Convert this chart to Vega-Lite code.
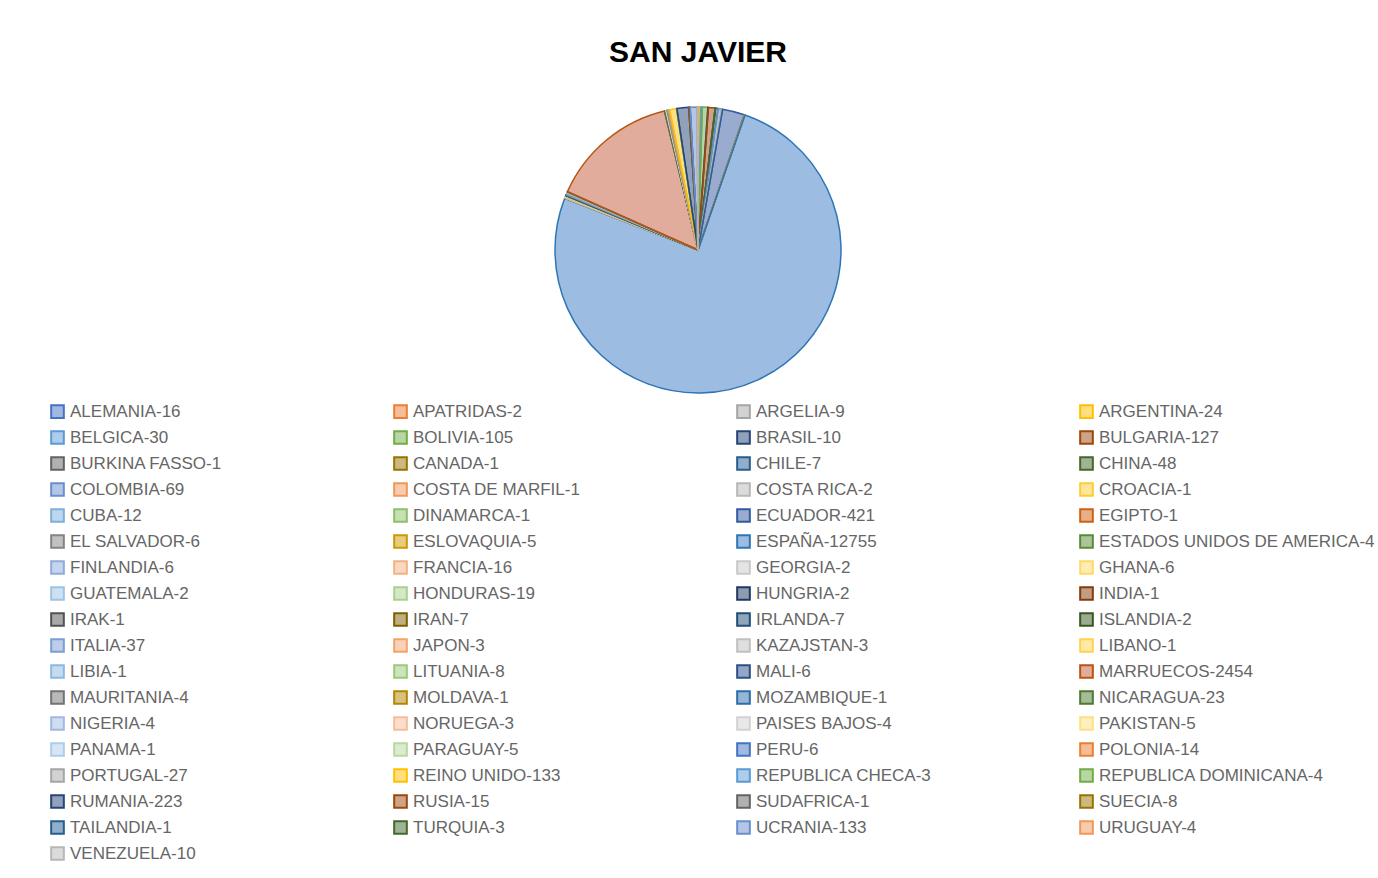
{
  "$schema": "https://vega.github.io/schema/vega-lite/v6.json",
  "autosize": {"type": "none"},
  "width": 1360,
  "height": 300,
  "padding": {"left": 18, "top": 100, "right": 0, "bottom": 478},
  "background": "white",
  "title": {"text": "SAN JAVIER", "anchor": "middle", "font": "Liberation Sans", "fontSize": 30, "fontWeight": "bold", "color": "#000000", "offset": 32},
  "config": {"view": {"stroke": null}},
  "data": {"values": [
    {"i": 1, "label": "ALEMANIA-16", "n": 16},
    {"i": 2, "label": "APATRIDAS-2", "n": 2},
    {"i": 3, "label": "ARGELIA-9", "n": 9},
    {"i": 4, "label": "ARGENTINA-24", "n": 24},
    {"i": 5, "label": "BELGICA-30", "n": 30},
    {"i": 6, "label": "BOLIVIA-105", "n": 105},
    {"i": 7, "label": "BRASIL-10", "n": 10},
    {"i": 8, "label": "BULGARIA-127", "n": 127},
    {"i": 9, "label": "BURKINA FASSO-1", "n": 1},
    {"i": 10, "label": "CANADA-1", "n": 1},
    {"i": 11, "label": "CHILE-7", "n": 7},
    {"i": 12, "label": "CHINA-48", "n": 48},
    {"i": 13, "label": "COLOMBIA-69", "n": 69},
    {"i": 14, "label": "COSTA DE MARFIL-1", "n": 1},
    {"i": 15, "label": "COSTA RICA-2", "n": 2},
    {"i": 16, "label": "CROACIA-1", "n": 1},
    {"i": 17, "label": "CUBA-12", "n": 12},
    {"i": 18, "label": "DINAMARCA-1", "n": 1},
    {"i": 19, "label": "ECUADOR-421", "n": 421},
    {"i": 20, "label": "EGIPTO-1", "n": 1},
    {"i": 21, "label": "EL SALVADOR-6", "n": 6},
    {"i": 22, "label": "ESLOVAQUIA-5", "n": 5},
    {"i": 23, "label": "ESPAÑA-12755", "n": 12755},
    {"i": 24, "label": "ESTADOS UNIDOS DE AMERICA-4", "n": 4},
    {"i": 25, "label": "FINLANDIA-6", "n": 6},
    {"i": 26, "label": "FRANCIA-16", "n": 16},
    {"i": 27, "label": "GEORGIA-2", "n": 2},
    {"i": 28, "label": "GHANA-6", "n": 6},
    {"i": 29, "label": "GUATEMALA-2", "n": 2},
    {"i": 30, "label": "HONDURAS-19", "n": 19},
    {"i": 31, "label": "HUNGRIA-2", "n": 2},
    {"i": 32, "label": "INDIA-1", "n": 1},
    {"i": 33, "label": "IRAK-1", "n": 1},
    {"i": 34, "label": "IRAN-7", "n": 7},
    {"i": 35, "label": "IRLANDA-7", "n": 7},
    {"i": 36, "label": "ISLANDIA-2", "n": 2},
    {"i": 37, "label": "ITALIA-37", "n": 37},
    {"i": 38, "label": "JAPON-3", "n": 3},
    {"i": 39, "label": "KAZAJSTAN-3", "n": 3},
    {"i": 40, "label": "LIBANO-1", "n": 1},
    {"i": 41, "label": "LIBIA-1", "n": 1},
    {"i": 42, "label": "LITUANIA-8", "n": 8},
    {"i": 43, "label": "MALI-6", "n": 6},
    {"i": 44, "label": "MARRUECOS-2454", "n": 2454},
    {"i": 45, "label": "MAURITANIA-4", "n": 4},
    {"i": 46, "label": "MOLDAVA-1", "n": 1},
    {"i": 47, "label": "MOZAMBIQUE-1", "n": 1},
    {"i": 48, "label": "NICARAGUA-23", "n": 23},
    {"i": 49, "label": "NIGERIA-4", "n": 4},
    {"i": 50, "label": "NORUEGA-3", "n": 3},
    {"i": 51, "label": "PAISES BAJOS-4", "n": 4},
    {"i": 52, "label": "PAKISTAN-5", "n": 5},
    {"i": 53, "label": "PANAMA-1", "n": 1},
    {"i": 54, "label": "PARAGUAY-5", "n": 5},
    {"i": 55, "label": "PERU-6", "n": 6},
    {"i": 56, "label": "POLONIA-14", "n": 14},
    {"i": 57, "label": "PORTUGAL-27", "n": 27},
    {"i": 58, "label": "REINO UNIDO-133", "n": 133},
    {"i": 59, "label": "REPUBLICA CHECA-3", "n": 3},
    {"i": 60, "label": "REPUBLICA DOMINICANA-4", "n": 4},
    {"i": 61, "label": "RUMANIA-223", "n": 223},
    {"i": 62, "label": "RUSIA-15", "n": 15},
    {"i": 63, "label": "SUDAFRICA-1", "n": 1},
    {"i": 64, "label": "SUECIA-8", "n": 8},
    {"i": 65, "label": "TAILANDIA-1", "n": 1},
    {"i": 66, "label": "TURQUIA-3", "n": 3},
    {"i": 67, "label": "UCRANIA-133", "n": 133},
    {"i": 68, "label": "URUGUAY-4", "n": 4},
    {"i": 69, "label": "VENEZUELA-10", "n": 10}
  ]},
  "mark": {"type": "arc", "outerRadius": 143, "fillOpacity": 0.5, "strokeWidth": 1.5, "strokeJoin": "round"},
  "encoding": {
    "theta": {"field": "n", "type": "quantitative", "stack": true},
    "order": {"field": "i", "type": "quantitative"},
    "color": {
      "field": "label", "type": "nominal", "sort": null,
      "scale": {"range": ["#4472C4","#ED7D31","#A5A5A5","#FFC000","#5B9BD5","#70AD47",
        "#264478","#9E480E","#636363","#997300","#255E91","#43682B",
        "#698ED0","#F1975A","#B7B7B7","#FFCD33","#7CAFDD","#8CC168",
        "#335AA1","#D26012","#848484","#CC9A00","#3A7CC4","#598A38",
        "#8FAADC","#F4B183","#C9C9C9","#FFD966","#9DC3E6","#A9D18E",
        "#203864","#843C0C","#525252","#7F6000","#1F4E79","#385723",
        "#7C9CD6","#F2A46F","#C0C0C0","#FFD34D","#8CB9E2","#9AC97A",
        "#2C4F8C","#C55A3A","#737373","#B38600","#2B6EA9","#4E7931",
        "#A1B9E1","#F6BE98","#D2D2D2","#FFE080","#ADCDEA","#B7D8A0",
        "#4472C4","#ED7D31","#A5A5A5","#FFC000","#5B9BD5","#70AD47",
        "#264478","#9E480E","#636363","#997300","#255E91","#43682B",
        "#698ED0","#F1975A","#B7B7B7"]},
      "legend": {
        "title": null, "orient": "none", "legendX": 31, "legendY": 303,
        "direction": "horizontal",
        "columns": 4, "gridAlign": "all", "columnPadding": 43, "rowPadding": 5,
        "symbolType": "square", "symbolSize": 160, "symbolStrokeWidth": 2,
        "labelFont": "Liberation Sans", "labelFontSize": 17, "labelColor": "#666666",
        "labelLimit": 400, "labelOffset": 4, "symbolLimit": 100, "padding": 0,
        "encode": {"symbols": {"update": {"fillOpacity": {"value": 0.5}}}}
      }
    },
    "stroke": {
      "field": "label", "type": "nominal", "sort": null,
      "scale": {"range": ["#4472C4","#ED7D31","#A5A5A5","#FFC000","#5B9BD5","#70AD47",
        "#264478","#9E480E","#636363","#997300","#255E91","#43682B",
        "#698ED0","#F1975A","#B7B7B7","#FFCD33","#7CAFDD","#8CC168",
        "#335AA1","#D26012","#848484","#CC9A00","#2E75B6","#598A38",
        "#8FAADC","#F4B183","#C9C9C9","#FFD966","#9DC3E6","#A9D18E",
        "#203864","#843C0C","#525252","#7F6000","#1F4E79","#385723",
        "#7C9CD6","#F2A46F","#C0C0C0","#FFD34D","#8CB9E2","#9AC97A",
        "#2C4F8C","#B85410","#737373","#B38600","#2B6EA9","#4E7931",
        "#A1B9E1","#F6BE98","#D2D2D2","#FFE080","#ADCDEA","#B7D8A0",
        "#4472C4","#ED7D31","#A5A5A5","#FFC000","#5B9BD5","#70AD47",
        "#264478","#9E480E","#636363","#997300","#255E91","#43682B",
        "#698ED0","#F1975A","#B7B7B7"]},
      "legend": {
        "title": null, "orient": "none", "legendX": 31, "legendY": 303,
        "direction": "horizontal",
        "columns": 4, "gridAlign": "all", "columnPadding": 43, "rowPadding": 5,
        "symbolType": "square", "symbolSize": 160, "symbolStrokeWidth": 2,
        "labelFont": "Liberation Sans", "labelFontSize": 17, "labelColor": "#666666",
        "labelLimit": 400, "labelOffset": 4, "symbolLimit": 100, "padding": 0,
        "encode": {"symbols": {"update": {"fillOpacity": {"value": 0.5}}}}
      }
    }
  }
}
